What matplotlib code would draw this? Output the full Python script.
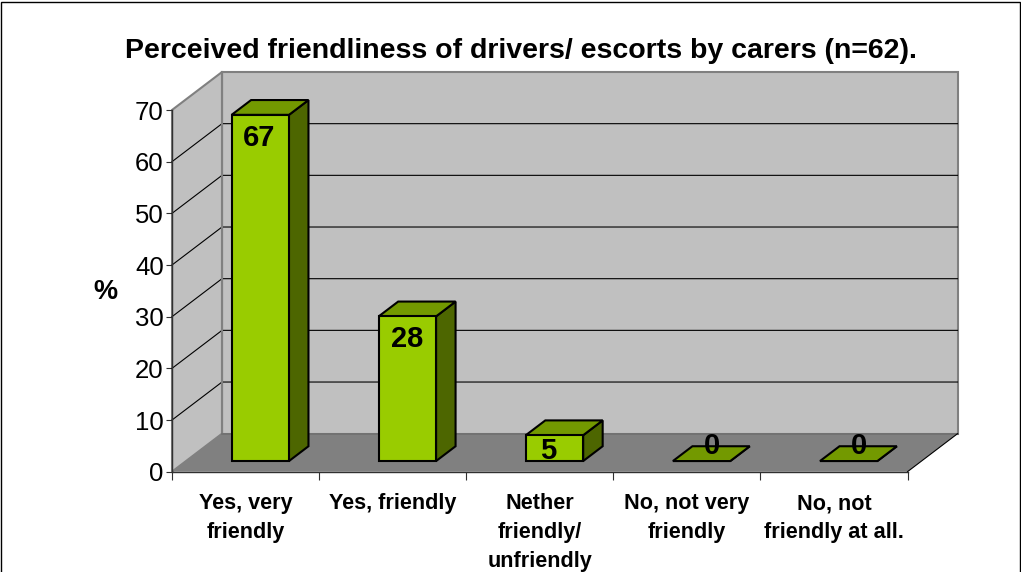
import matplotlib
matplotlib.use('Agg')
import matplotlib.pyplot as plt
from matplotlib.patches import Polygon, Rectangle

categories = ['Yes, very\nfriendly', 'Yes, friendly', 'Nether\nfriendly/\nunfriendly',
              'No, not very\nfriendly', 'No, not\nfriendly at all.']
values = [67, 28, 5, 0, 0]
y_ticks = [0, 10, 20, 30, 40, 50, 60, 70]
title = 'Perceived friendliness of drivers/ escorts by carers (n=62).'

# label nudges in points, relative to top centre of the bar front
label_offsets = [(-0.5, -17), (0, -16), (-4, -11.5), (8, 10.5), (8, 10.5)]

W, H = 1021, 572
plt.rcParams['font.family'] = ['Liberation Sans', 'DejaVu Sans']

fig = plt.figure(figsize=(W / 100, H / 100), dpi=100)
fig.patches.append(Rectangle((0.5 / W, -0.1), (W - 1.5) / W, 1.1 - 1.5 / H, transform=fig.transFigure,
                             fill=False, ec='black', lw=1.0))

ax = fig.add_axes([172 / W, 1 - 471.7 / H, 735.5 / W, 361.7 / H])
ax.set_xlim(0, 5)
ax.set_ylim(0, 70)
ax.patch.set_visible(False)

# one depth unit moves back by 50px right and 38px up
DX = 50 / (735.5 / 5)
DY = 38 / (361.7 / 70)


def proj(x, y, d=0.0):
    return (x + d * DX, y + d * DY)


def poly(pts, fc, ec='none', lw=0.0, z=1):
    ax.add_patch(Polygon([proj(*p) for p in pts], closed=True, fc=fc, ec=ec, lw=lw,
                         zorder=z, clip_on=False, joinstyle='miter'))


# walls and floor
poly([(0, 0, 1), (5, 0, 1), (5, 70, 1), (0, 70, 1)], '#c0c0c0', '#808080', 1.5, 1)
poly([(0, 0, 0), (0, 0, 1), (0, 70, 1), (0, 70, 0)], '#c0c0c0', '#808080', 1.5, 1)
poly([(0, 0, 0), (5, 0, 0), (5, 0, 1), (0, 0, 1)], '#808080', z=1.5)

# gridlines run along the left wall and the back wall
for t in y_ticks[1:-1]:
    xs, ys = zip(proj(0, t, 0), proj(0, t, 1), proj(5, t, 1))
    ax.plot(xs, ys, color='black', lw=0.8, zorder=2, clip_on=False)
ax.plot(*zip(proj(0, 0, 1), proj(0, 70, 1)), color='#808080', lw=1.5, zorder=2, clip_on=False)
ax.plot(*zip(proj(0, 0, 1), proj(5, 0, 1)), color='#707070', lw=1.2, zorder=2, clip_on=False)
ax.plot(*zip(proj(5, 0, 0), proj(5, 0, 1)), color='black', lw=0.8, zorder=2, clip_on=False)

# bars
bar_w = 0.39
d0, d1 = 0.28, 0.67
for i, v in enumerate(values):
    x0 = i + 0.505 - bar_w / 2
    x1 = x0 + bar_w
    z = 3 + i * 0.1
    poly([(x1, 0, d0), (x1, 0, d1), (x1, v, d1), (x1, v, d0)], '#4d6600', 'black', 1.5, z)
    poly([(x0, v, d0), (x1, v, d0), (x1, v, d1), (x0, v, d1)], '#739900', 'black', 1.5, z)
    if v > 0:
        poly([(x0, 0, d0), (x1, 0, d0), (x1, v, d0), (x0, v, d0)], '#99cc00', 'black', 1.5, z)
    lx, ly = proj(i + 0.5, v, d0)
    ax.annotate(str(v), (lx, ly), xytext=label_offsets[i], textcoords='offset points',
                ha='center', va='center', fontsize=21, fontweight='bold', zorder=6,
                annotation_clip=False)

# axes
for s in ['top', 'right']:
    ax.spines[s].set_visible(False)
for s in ['left', 'bottom']:
    ax.spines[s].set_color('#303030')
    ax.spines[s].set_linewidth(1.0)
    ax.spines[s].set_zorder(2.5)
ax.set_yticks(y_ticks)
ax.tick_params(axis='y', length=4.5, width=0.8, color='#303030', labelsize=18.5, pad=1.5)
ax.set_xticks(range(6))
ax.set_xticklabels([])
ax.tick_params(axis='x', which='major', length=6, width=0.8, color='#303030')
ax.set_xticks([i + 0.5 for i in range(5)], minor=True)
ax.set_xticklabels(categories, minor=True, fontsize=15.6, fontweight='bold', linespacing=1.5)
ax.tick_params(axis='x', which='minor', length=0, pad=15.5)

fig.text(105 / W, 1 - 292 / H, '%', fontsize=19.5, fontweight='bold', ha='center', va='center')
fig.text(521 / W, 1 - 51 / H, title, fontsize=20.5, fontweight='bold', ha='center', va='center')

fig.savefig('out.png', dpi=100)
